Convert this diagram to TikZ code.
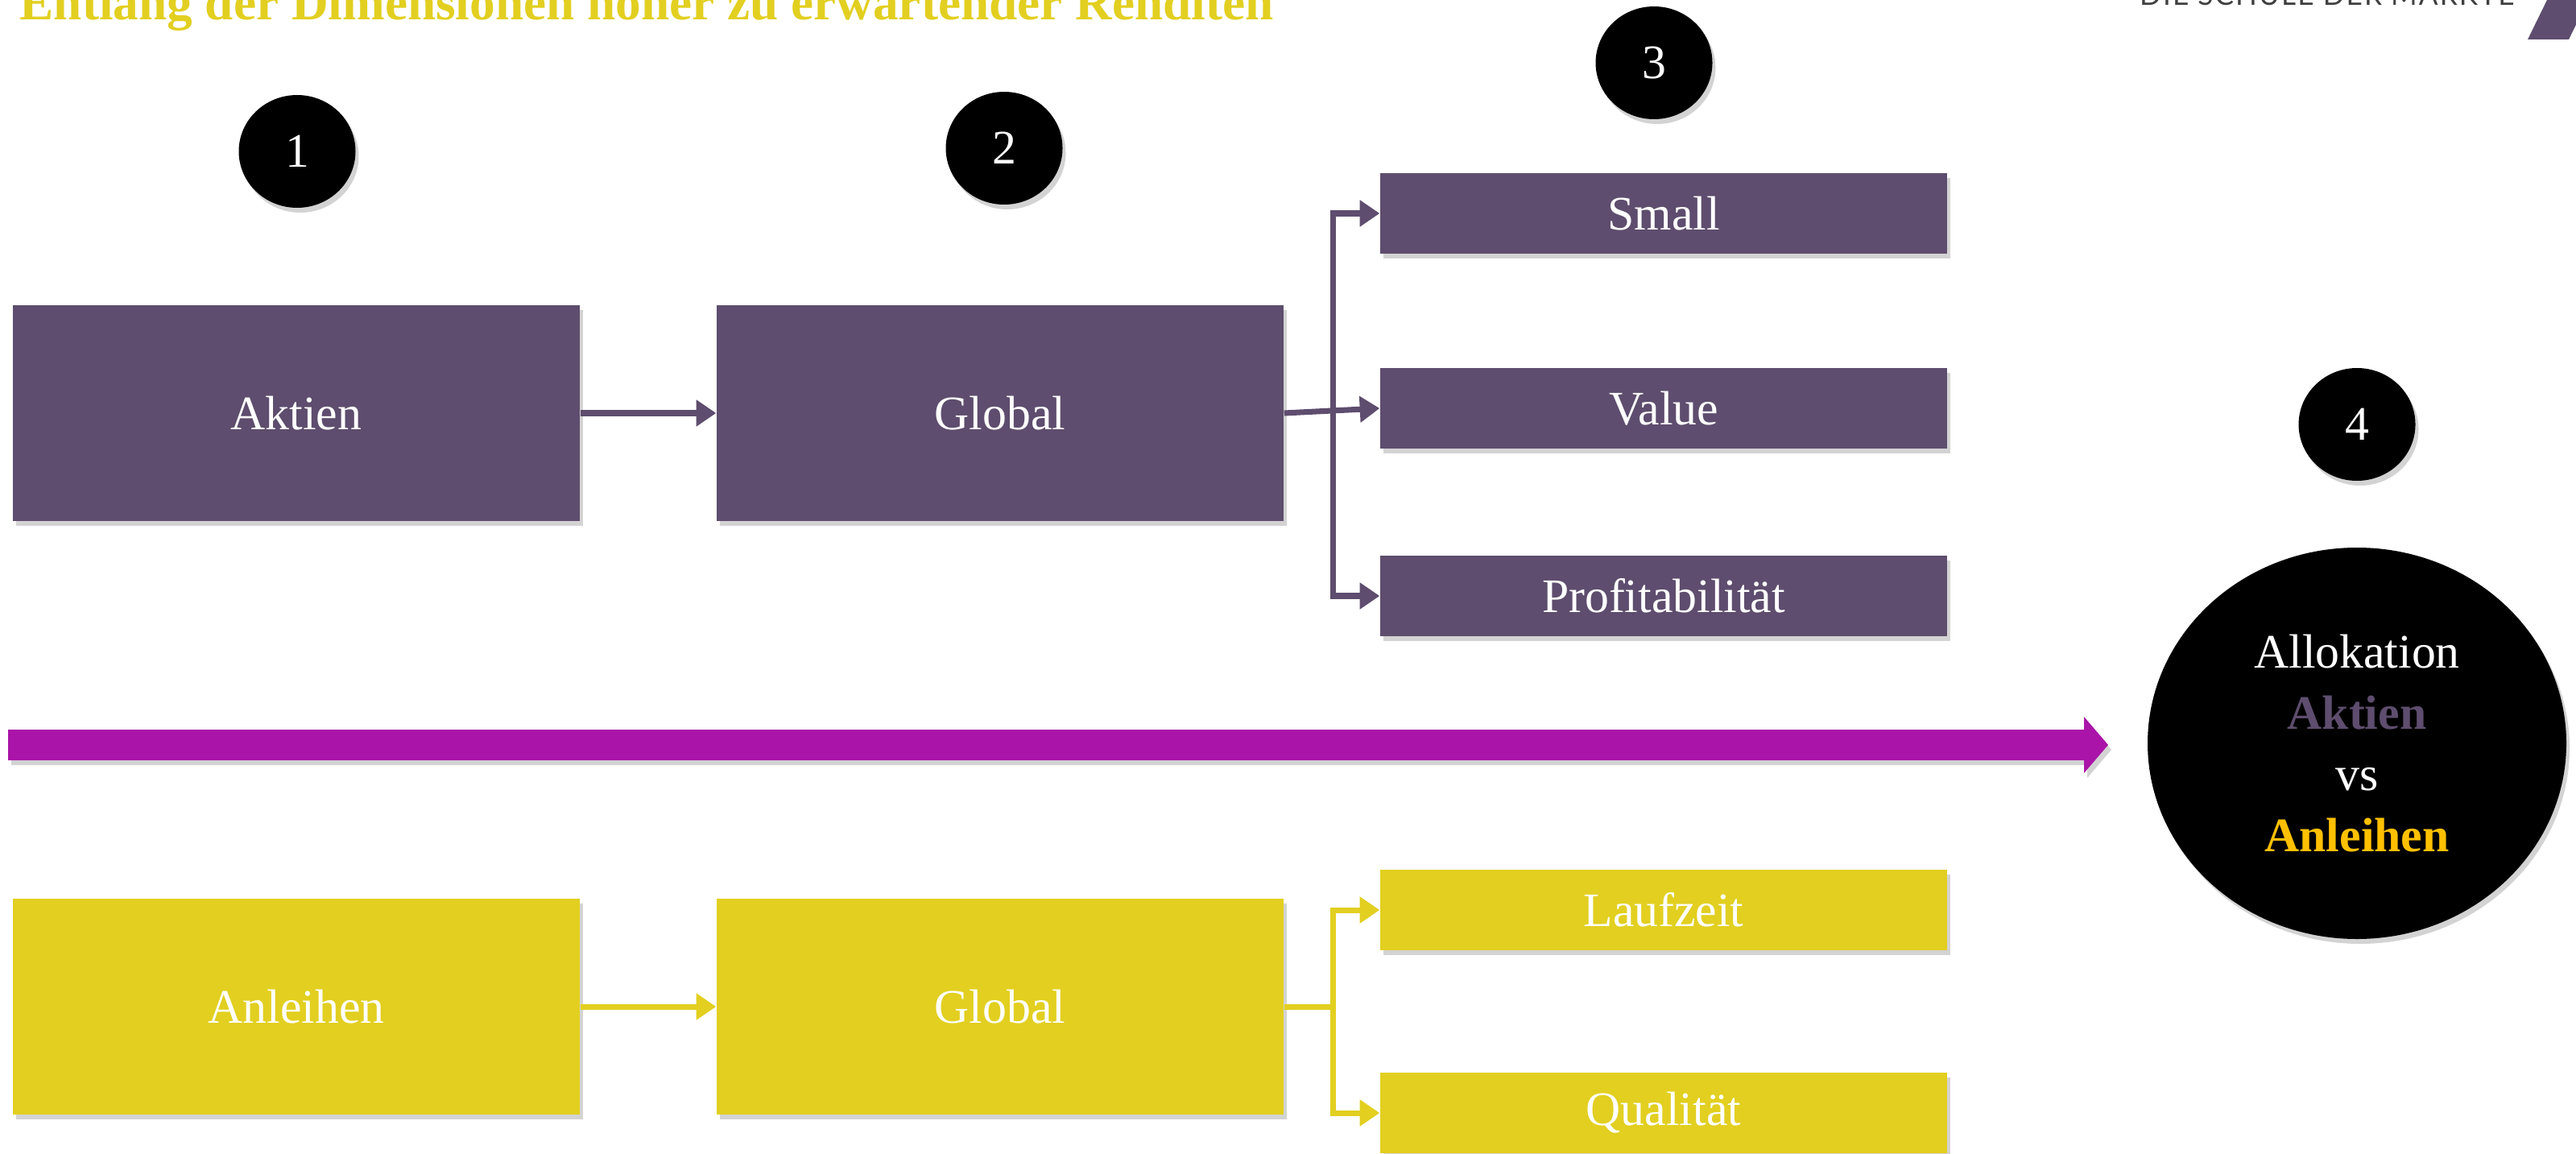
\documentclass[tikz,border=0pt]{standalone}
\usepackage{fontspec}
\setmainfont{Liberation Serif}
\newfontfamily\logofont[LetterSpace=6]{Lato}
\usepackage{xcolor}
\usetikzlibrary{arrows.meta,shapes.geometric,shadows}

\definecolor{aktienlila}{HTML}{5E4D6E}
\definecolor{anleihengelb}{HTML}{E2CF20}
\definecolor{pfeilmagenta}{HTML}{AA14A8}
\definecolor{allokgold}{HTML}{FFC000}

\begin{document}
\begin{tikzpicture}[
    font=\fontsize{17}{21.7}\selectfont,
    boxshadow/.style={drop shadow={shadow xshift=0.04cm, shadow yshift=-0.06cm, opacity=0.35}},
    bigbox/.style={rectangle, minimum width=7.04cm, minimum height=2.68cm, text=white, boxshadow},
    smallbox/.style={rectangle, minimum width=7.04cm, minimum height=1.0cm, text=white, boxshadow},
    numcircle/.style={ellipse, fill=black, text=white, minimum width=1.45cm, minimum height=1.40cm, inner sep=0pt, boxshadow},
    conn/.style={line width=2pt, -{Triangle[length=7pt,width=9pt]}},
  ]
  \useasboundingbox (0,0) rectangle (31.99,-14.32);
  \clip (0,0) rectangle (31.99,-14.32);

  % header, cut at the top edge
  \node[anchor=base west, inner sep=0pt, text=anleihengelb, font=\fontsize{18}{22}\selectfont\bfseries] (titel) at (0.24,-0.25) {Entlang der Dimensionen höher zu erwartender Renditen};
  \node[anchor=base east, inner sep=0pt, text=black!75, font=\logofont\fontsize{10}{12}\selectfont] (logo) at (31.23,-0.07) {DIE SCHULE DER MÄRKTE};
  \fill[aktienlila] (31.39,-0.49) -- (31.90,-0.49) -- (32.15,0.02) -- (31.64,0.02) -- cycle;

  % steps
  \node[numcircle] (n1) at (3.69,-1.88) {1};
  \node[numcircle] (n2) at (12.47,-1.84) {2};
  \node[numcircle] (n3) at (20.54,-0.78) {3};
  \node[numcircle] (n4) at (29.27,-5.27) {4};

  % Aktien
  \node[bigbox, fill=aktienlila] (aktien) at (3.68,-5.13) {Aktien};
  \node[bigbox, fill=aktienlila] (globalA) at (12.42,-5.13) {Global};
  \node[smallbox, fill=aktienlila] (small) at (20.66,-2.65) {Small};
  \node[smallbox, fill=aktienlila] (value) at (20.66,-5.07) {Value};
  \node[smallbox, fill=aktienlila] (profit) at (20.66,-7.40) {Profitabilität};
  \coordinate (forkA) at (16.55,-5.10);
  \draw[conn, aktienlila] (aktien.east) -- (globalA.west);
  \draw[conn, aktienlila] (globalA.east) -- (value.west);
  \draw[conn, aktienlila] (forkA) |- (small.west);
  \draw[conn, aktienlila] (forkA) |- (profit.west);

  % big arrow
  \fill[pfeilmagenta, boxshadow] (0.10,-9.06) -- (25.88,-9.06) -- (25.88,-8.90) -- (26.18,-9.25)
    -- (25.88,-9.60) -- (25.88,-9.44) -- (0.10,-9.44) -- cycle;

  % Anleihen
  \node[bigbox, fill=anleihengelb] (anleihen) at (3.68,-12.50) {Anleihen};
  \node[bigbox, fill=anleihengelb] (globalB) at (12.42,-12.50) {Global};
  \node[smallbox, fill=anleihengelb] (laufzeit) at (20.66,-11.30) {Laufzeit};
  \node[smallbox, fill=anleihengelb] (quali) at (20.66,-13.82) {Qualität};
  \coordinate (forkB) at (16.55,-12.50);
  \draw[conn, anleihengelb] (anleihen.east) -- (globalB.west);
  \draw[line width=2pt, anleihengelb] (globalB.east) -- (forkB);
  \draw[conn, anleihengelb] (forkB) |- (laufzeit.west);
  \draw[conn, anleihengelb] (forkB) |- (quali.west);

  % result
  \node[ellipse, fill=black, text=white, align=center, inner sep=0pt,
    minimum width=5.2cm, minimum height=4.86cm, boxshadow] (allok) at (29.27,-9.23)
    {Allokation\\{\bfseries\color{aktienlila}Aktien}\\vs\\{\bfseries\color{allokgold}Anleihen}};
\end{tikzpicture}
\end{document}
